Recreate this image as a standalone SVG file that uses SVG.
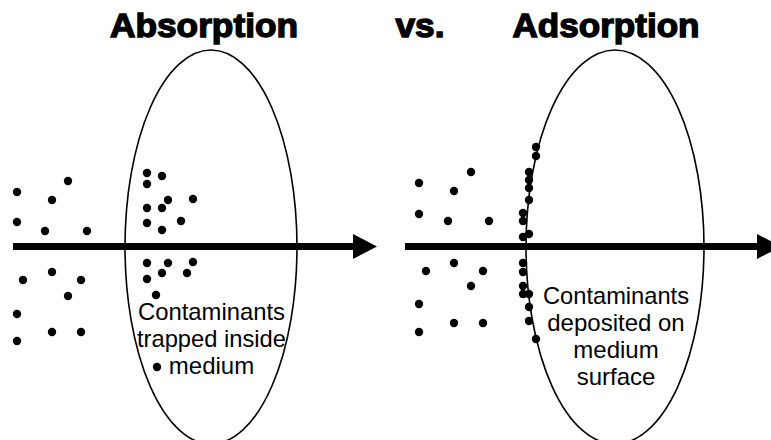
<svg xmlns="http://www.w3.org/2000/svg" width="771" height="440" viewBox="0 0 771 440">
<style>
.title{font-family:"Liberation Sans",Arial,sans-serif;font-weight:bold;font-size:34px;fill:#000;stroke:#000;stroke-width:1.4px;text-anchor:middle}
.lbl{font-family:"Liberation Sans",Arial,sans-serif;font-size:24px;fill:#000;text-anchor:middle}
.med{fill:none;stroke:#000;stroke-width:1.6}
.shaft{fill:#000}
.dots circle{fill:#000}
</style>
<rect width="771" height="440" fill="#fff"/>
<g id="titles">
<text class="title" x="204" y="37" textLength="188" lengthAdjust="spacingAndGlyphs">Absorption</text>
<text class="title" x="420" y="37" textLength="49" lengthAdjust="spacingAndGlyphs">vs.</text>
<text class="title" x="606" y="37" textLength="187" lengthAdjust="spacingAndGlyphs">Adsorption</text>
</g>
<g id="medium-left">
<ellipse class="med" cx="211" cy="247" rx="86" ry="197"/>
<text class="lbl" x="211.5" y="320" textLength="147" lengthAdjust="spacingAndGlyphs">Contaminants</text>
<text class="lbl" x="211.5" y="347" textLength="149" lengthAdjust="spacingAndGlyphs">trapped inside</text>
<text class="lbl" x="211.5" y="374">medium</text>
</g>
<g id="medium-right">
<ellipse class="med" cx="615" cy="247" rx="89" ry="197"/>
<text class="lbl" x="616" y="304" textLength="146" lengthAdjust="spacingAndGlyphs">Contaminants</text>
<text class="lbl" x="616" y="331">deposited on</text>
<text class="lbl" x="616" y="358">medium</text>
<text class="lbl" x="616" y="385">surface</text>
</g>
<g id="connectors">
<path class="shaft" d="M13,243 H353 V234 L377,246.5 L353,259 V250 H13 Z"/>
<path class="shaft" d="M405,243 H757 V234 L781,246.5 L757,259 V250 H405 Z"/>
</g>
<g id="dots-left" class="dots">
<circle cx="17" cy="192" r="4.2"/><circle cx="68" cy="181" r="4.2"/><circle cx="52" cy="200" r="4.2"/>
<circle cx="17" cy="222" r="4.2"/><circle cx="45" cy="231" r="4.2"/><circle cx="87" cy="231" r="4.2"/>
<circle cx="52" cy="272" r="4.2"/><circle cx="23" cy="280" r="4.2"/><circle cx="81" cy="280" r="4.2"/>
<circle cx="68" cy="296" r="4.2"/><circle cx="17" cy="314" r="4.2"/><circle cx="52" cy="332" r="4.2"/>
<circle cx="81" cy="332" r="4.2"/><circle cx="17" cy="341" r="4.2"/>
<circle cx="147" cy="173" r="4.2"/><circle cx="162" cy="176" r="4.2"/><circle cx="147" cy="184" r="4.2"/>
<circle cx="168" cy="200" r="4.2"/><circle cx="193" cy="199" r="4.2"/><circle cx="147" cy="208" r="4.2"/>
<circle cx="162" cy="208" r="4.2"/><circle cx="181" cy="221" r="4.2"/><circle cx="147" cy="223" r="4.2"/>
<circle cx="162" cy="230" r="4.2"/>
<circle cx="147" cy="263" r="4.2"/><circle cx="168" cy="263" r="4.2"/><circle cx="193" cy="262" r="4.2"/>
<circle cx="162" cy="273" r="4.2"/><circle cx="187" cy="273" r="4.2"/><circle cx="147" cy="279" r="4.2"/>
<circle cx="156" cy="295" r="4.2"/><circle cx="157" cy="367" r="4.2"/>
</g>
<g id="dots-right" class="dots">
<circle cx="419" cy="183" r="4.2"/><circle cx="471" cy="172" r="4.2"/><circle cx="454" cy="191" r="4.2"/>
<circle cx="419" cy="214" r="4.2"/><circle cx="448" cy="221" r="4.2"/><circle cx="489" cy="221" r="4.2"/>
<circle cx="454" cy="263" r="4.2"/><circle cx="426" cy="271" r="4.2"/><circle cx="483" cy="271" r="4.2"/>
<circle cx="471" cy="286" r="4.2"/><circle cx="419" cy="304" r="4.2"/><circle cx="454" cy="323" r="4.2"/>
<circle cx="483" cy="323" r="4.2"/><circle cx="419" cy="332" r="4.2"/>
<circle cx="536" cy="147" r="4.2"/><circle cx="536" cy="156" r="4.2"/><circle cx="529" cy="172" r="4.2"/>
<circle cx="529" cy="180" r="4.2"/><circle cx="529" cy="188" r="4.2"/><circle cx="529" cy="200" r="4.2"/>
<circle cx="523" cy="213" r="4.2"/><circle cx="523" cy="221" r="4.2"/><circle cx="529" cy="234" r="4.2"/>
<circle cx="523" cy="237" r="4.2"/>
<circle cx="523" cy="263" r="4.2"/><circle cx="523" cy="272" r="4.2"/><circle cx="523" cy="286" r="4.2"/>
<circle cx="523" cy="294" r="4.2"/><circle cx="529" cy="294" r="4.2"/><circle cx="529" cy="307" r="4.2"/>
<circle cx="529" cy="321" r="4.2"/><circle cx="536" cy="339" r="4.2"/>
</g>
</svg>
